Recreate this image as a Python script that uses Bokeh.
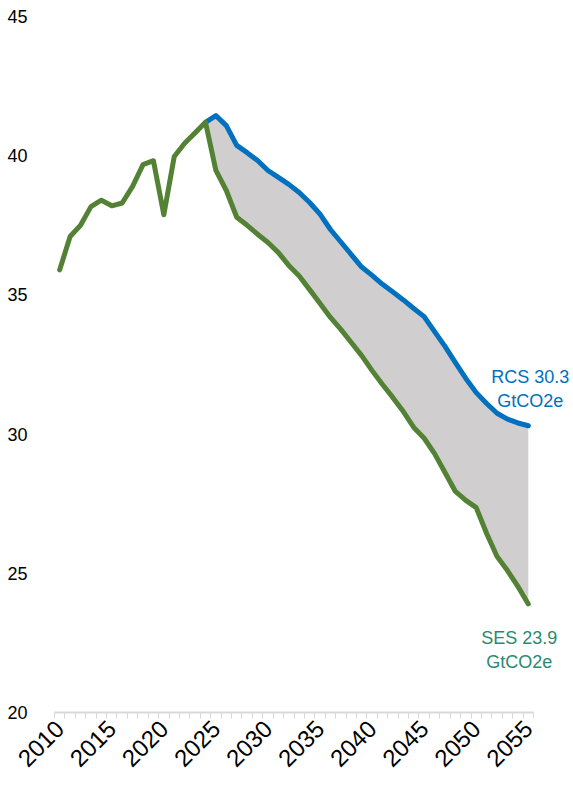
import math
from bokeh.plotting import figure
from bokeh.models import Range1d, FixedTicker, Label
from bokeh.embed import file_html
from bokeh.resources import INLINE

# ---- data ----
years = list(range(2010, 2056))
hist_years = list(range(2010, 2025))
hist = [35.9, 37.1, 37.5, 38.17, 38.4, 38.2, 38.3, 38.9, 39.68, 39.82,
        37.88, 39.97, 40.45, 40.82, 41.2]
proj_years = list(range(2024, 2056))
rcs = [41.2, 41.44, 41.08, 40.37, 40.11, 39.83, 39.47, 39.22, 38.97, 38.68,
       38.32, 37.9, 37.35, 36.9, 36.45, 36.0, 35.7, 35.38, 35.1, 34.82,
       34.51, 34.22, 33.68, 33.15, 32.57, 32.0, 31.49, 31.1, 30.75, 30.54,
       30.4, 30.3]
ses = [41.2, 39.47, 38.75, 37.79, 37.5, 37.18, 36.88, 36.52, 36.06, 35.68,
       35.19, 34.69, 34.19, 33.76, 33.29, 32.82, 32.28, 31.78, 31.31, 30.81,
       30.24, 29.85, 29.3, 28.62, 27.94, 27.62, 27.36, 26.43, 25.6, 25.1,
       24.53, 23.9]
y_ticks = [20, 25, 30, 35, 40, 45]
x_label_years = list(range(2010, 2056, 5))
unit = "GtCO2e"

FONT = "Liberation Sans"
BLUE = "#0070c0"
GREEN = "#548235"
FILL = "#d0cecf"

# layout (pixels)
W, H = 573, 785
LEFT, TOP, BOTTOM, RIGHT = 54, 16, 73, 2
AXIS_PX = 479  # pixel length of the category axis
x0 = years[0] - 0.5
x1 = years[-1] + 0.5
px_per_year = AXIS_PX / (x1 - x0)
frame_w = W - LEFT - RIGHT
x_end = x0 + frame_w / px_per_year

p = figure(width=W, height=H, output_backend="svg", toolbar_location=None,
           x_range=Range1d(x0, x_end),
           y_range=Range1d(y_ticks[0], y_ticks[-1]),
           min_border_left=LEFT, min_border_right=RIGHT, min_border_top=TOP,
           min_border_bottom=BOTTOM)
p.outline_line_color = None
p.xgrid.visible = False
p.ygrid.visible = False
p.background_fill_color = "white"
p.border_fill_color = "white"

p.varea(x=proj_years, y1=ses, y2=rcs, fill_color=FILL)
p.line(proj_years, rcs, line_color=BLUE, line_width=5,
       line_join="round", line_cap="round")
p.line(hist_years + proj_years[1:], hist + ses[1:], line_color=GREEN,
       line_width=5, line_join="round", line_cap="round")

# x axis
xa = p.xaxis[0]
xa.bounds = (x0, x1)
xa.ticker = FixedTicker(ticks=x_label_years,
                        minor_ticks=[y - 0.5 for y in years] + [x1])
xa.axis_line_color = "#d9d9d9"
xa.axis_line_width = 2
xa.major_tick_line_color = None
xa.minor_tick_line_color = "#d9d9d9"
xa.minor_tick_line_width = 1
xa.minor_tick_in = 0
xa.minor_tick_out = 6
xa.major_tick_in = 0
xa.major_tick_out = 6
xa.major_label_orientation = math.pi / 4
xa.major_label_text_font = FONT
xa.major_label_text_font_size = "24px"
xa.major_label_text_color = "black"
xa.major_label_standoff = 6

ya = p.yaxis[0]
ya.ticker = FixedTicker(ticks=y_ticks)
ya.axis_line_color = None
ya.major_tick_line_color = None
ya.minor_tick_line_color = None
ya.major_label_text_font = FONT
ya.major_label_text_font_size = "18px"
ya.major_label_text_color = "black"
ya.major_label_standoff = 21

p.add_layout(Label(x=proj_years[-1], y=rcs[-1], x_offset=2, y_offset=37,
                   text=f"RCS {rcs[-1]}\n{unit}", text_align="center",
                   text_baseline="middle", text_font=FONT,
                   text_font_size="18px", text_color=BLUE))
p.add_layout(Label(x=proj_years[-1], y=ses[-1], x_offset=-9, y_offset=-46,
                   text=f"SES {ses[-1]}\n{unit}", text_align="center",
                   text_baseline="middle", text_font=FONT,
                   text_font_size="18px", text_color="#2a8a70"))

open("out.html", "w").write(file_html(p, INLINE))
